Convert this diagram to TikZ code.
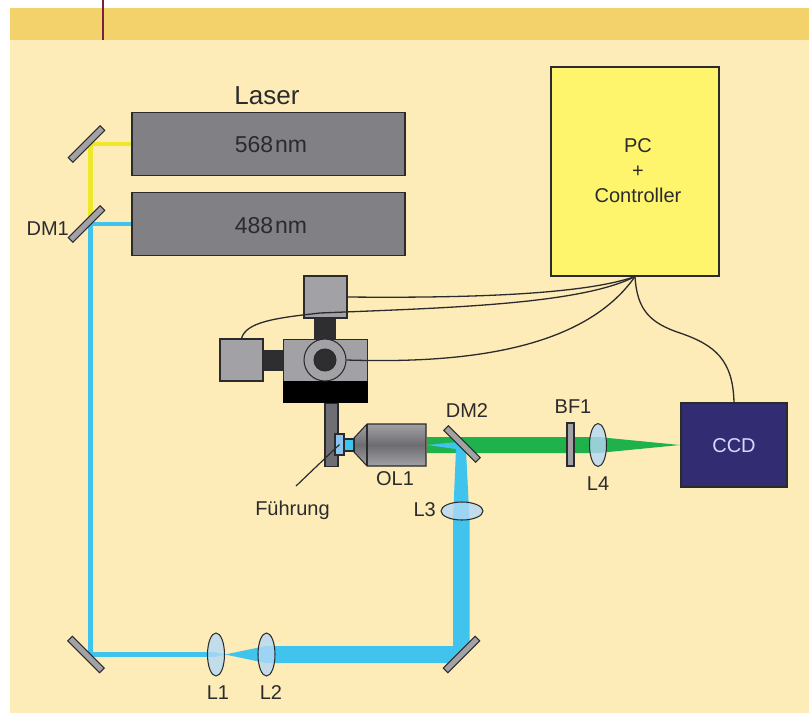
\documentclass[tikz,border=0pt]{standalone}
\usepackage{fontspec}
\setmainfont{Liberation Sans}
\usetikzlibrary{shapes.geometric}
\definecolor{pagebg}{HTML}{FDECB8}
\definecolor{stripbg}{HTML}{F3D26B}
\definecolor{rulered}{HTML}{7A1F3D}
\definecolor{boxgrey}{HTML}{808085}
\definecolor{partgrey}{HTML}{A2A2A6}
\definecolor{darkpart}{HTML}{2E2E30}
\definecolor{guidegrey}{HTML}{6F6F73}
\definecolor{beamblue}{HTML}{40C4EE}
\definecolor{beamgreen}{HTML}{1FB14C}
\definecolor{beamyellow}{HTML}{EEE82A}
\definecolor{lensblue}{HTML}{B4D8F6}
\definecolor{slideblue}{HTML}{8CC4F0}
\definecolor{pcyellow}{HTML}{FFF56C}
\definecolor{ccdblue}{HTML}{322C72}
\definecolor{inkc}{HTML}{2B2B2D}
\tikzset{
 x=1pt,y=-1pt,
 outl/.style={draw=inkc,line width=1.05pt},
 lbl/.style={font=\fontsize{20}{22}\selectfont,text=inkc,inner sep=0pt},
 laserbox/.style={outl,fill=boxgrey,minimum width=273pt,minimum height=63pt,inner sep=0pt},
 lasertext/.style={font=\fontsize{23}{25}\selectfont,text=inkc,inner sep=0pt},
 mirror/.style={outl,fill=partgrey,minimum width=45pt,minimum height=6.5pt,inner sep=0pt},
 lens/.style={outl,fill=lensblue,fill opacity=.8,ellipse,inner sep=0pt},
 partbox/.style={outl,fill=partgrey,inner sep=0pt},
 cable/.style={draw=inkc,line width=1.3pt},
}
\begin{document}
\begin{tikzpicture}
\useasboundingbox (0,0) rectangle (809,713);
\fill[white] (0,0) rectangle (809,713);
\fill[pagebg] (10,40) rectangle (809,713);
\fill[stripbg] (10,8) rectangle (809,40);
\draw[rulered,line width=1.3pt] (103,0) -- (103,40);
% laser beams
\coordinate (ya) at (132,144);
\coordinate (yb) at (90.5,144);
\coordinate (yc) at (90.5,222);
\draw[beamyellow,line width=4.2pt] (ya) -- (yb) -- (yc);
\coordinate (ba) at (132,224);
\coordinate (bb) at (90.5,224);
\coordinate (bc) at (90.5,654.5);
\coordinate (bd) at (216,654.5);
\draw[beamblue,line width=4.2pt] (ba) -- (bb) -- (bc) -- (bd);
\fill[beamblue] (216,652.4) -- (225,654.5) -- (216,656.6) -- cycle;
\fill[beamblue] (225,654.5) -- (266,646) -- (453,646) -- (453,520) -- (469.5,520) -- (469.5,646) -- (452,663) -- (266,663) -- cycle;
% green beam and blue wedge
\fill[beamgreen] (427,437) -- (598,437) -- (680,445) -- (598,453) -- (427,453) -- cycle;
\fill[beamblue] (427,445) -- (458,442) -- (466,450) -- (469.5,520) -- (453,520) -- (456,449) -- cycle;
% lasers
\node[laserbox] (l568) at (268.5,144) {};
\node[laserbox] (l488) at (268.5,224) {};
\node[lasertext] (t568) at (271,145) {568\kern2pt nm};
\node[lasertext] (t488) at (271,226) {488\kern2pt nm};
\node[font=\fontsize{26}{28}\selectfont,text=inkc,inner sep=0pt] (laserlabel) at (267,96) {Laser};
% mirrors
\node[mirror,rotate=45] (m1) at (86.5,144) {};
\node[mirror,rotate=45] (dm1) at (86.5,224) {};
\node[mirror,rotate=-45] (m3) at (86,654.5) {};
\node[mirror,rotate=45] (m4) at (461.5,654.5) {};
\node[mirror,rotate=-45] (dm2) at (462,444) {};
% lenses and filter
\node[lens,minimum width=17pt,minimum height=43pt] (l1) at (216,654.5) {};
\node[lens,minimum width=17pt,minimum height=43pt] (l2) at (266.5,654.5) {};
\node[lens,minimum width=42pt,minimum height=18pt] (l3) at (462,511) {};
\node[lens,minimum width=17pt,minimum height=43pt] (l4) at (598,445) {};
\node[partbox,minimum width=7pt,minimum height=43pt] (bf1) at (570.5,444.5) {};
% labels
\node[lbl,anchor=east] (dm1l) at (69,229) {DM1};
\node[lbl] (l1l) at (218,693) {L1};
\node[lbl] (l2l) at (271,693) {L2};
\node[lbl,anchor=east] (l3l) at (436,510) {L3};
\node[lbl] (l4l) at (598,484) {L4};
\node[lbl] (bf1l) at (573,407) {BF1};
\node[lbl] (dm2l) at (467,411) {DM2};
\node[lbl] (ol1l) at (395,479) {OL1};
\node[lbl] (fuehrung) at (292.5,510) {Führung};
% PC, CCD
\node[outl,fill=pcyellow,minimum width=168pt,minimum height=209pt,inner sep=0pt] (pc) at (635,171.5) {};
\node[align=center,font=\fontsize{20}{25}\selectfont,text=inkc,inner sep=0pt] (pclabel) at (638,170.5) {PC\\+\\Controller};
\node[outl,fill=ccdblue,minimum width=106pt,minimum height=84pt,inner sep=0pt] (ccd) at (734,445) {};
\node[font=\fontsize{20}{22}\selectfont,text=white!85!blue,inner sep=0pt] (ccdl) at (734,446) {CCD};
% stage mechanics
\fill[darkpart] (314,317) rectangle (336,340);
\fill[darkpart] (262,350) rectangle (284,371);
\node[partbox,minimum width=43pt,minimum height=42pt] (top) at (325.5,297) {};
\node[partbox,minimum width=43pt,minimum height=42pt] (left) at (241.5,360) {};
\node[partbox,minimum width=84pt,minimum height=42pt,anchor=north west] (stage) at (283,339) {};
\fill[black] (282.5,381) rectangle (367.5,402.5);
\node[partbox,circle,minimum size=42pt] (ring) at (325,360) {};
\node[circle,outl,fill=darkpart,minimum size=22pt,inner sep=0pt] (hub) at (325,360) {};
\node[outl,fill=guidegrey,minimum width=13pt,minimum height=63pt,anchor=north,inner sep=0pt] (guide) at (331.5,402.5) {};
% objective
\shade[top color=partgrey,bottom color=partgrey,middle color=boxgrey!85!black,draw=inkc,line width=1.05pt] (367,424) -- (426,424) -- (426,466) -- (367,466) -- (354,452) -- (354,438) -- cycle;
\draw[inkc,line width=1.05pt] (367,424) -- (367,466);
\node[outl,fill=beamblue,minimum width=10pt,minimum height=12pt,inner sep=0pt] (tip) at (349,445) {};
\node[outl,fill=slideblue,minimum width=9pt,minimum height=21pt,inner sep=0pt] (slide) at (339.5,444.5) {};
\coordinate (fl) at (296,486);
\draw[inkc,line width=1.2pt] (fl) -- (slide.center);
% cables
\draw[cable] (top.east) .. controls (450,298) and (580,296) .. (pc.south);
\draw[cable] (left.north) .. controls (246,322) and (275,318) .. (320,313) .. controls (440,308) and (580,305) .. (pc.south);
\draw[cable] (ring.east) .. controls (470,364) and (585,348) .. (pc.south);
\draw[cable] (pc.south) .. controls (637,310) and (650,323) .. (680,333) .. controls (715,345) and (733,360) .. (ccd.north);
\end{tikzpicture}
\end{document}
